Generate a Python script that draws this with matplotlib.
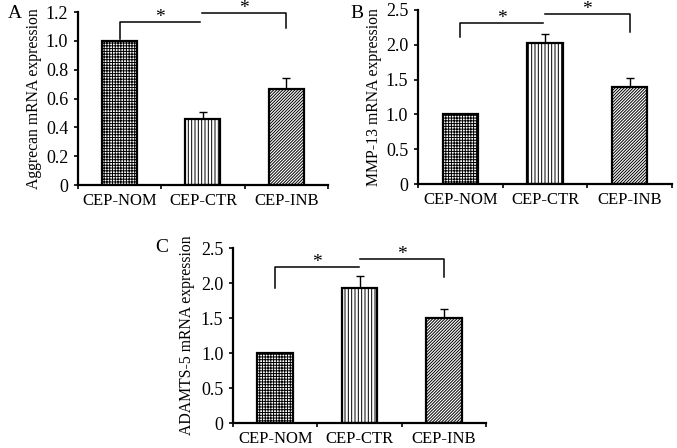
import matplotlib
matplotlib.use("Agg")
import matplotlib.pyplot as plt

plt.rcParams["font.family"] = ["Liberation Serif", "DejaVu Serif"]
plt.rcParams["hatch.linewidth"] = 0.7

# Dados
grupos = ["CEP-NOM", "CEP-CTR", "CEP-INB"]
hachuras = ["++++++", "|||||", "///////////"]

aggrecan = [1.0, 0.455, 0.665]
aggrecan_err = [0.0, 0.055, 0.075]

mmp13 = [1.0, 2.02, 1.40]
mmp13_err = [0.0, 0.13, 0.12]

adamts5 = [1.0, 1.93, 1.50]
adamts5_err = [0.0, 0.17, 0.13]

fig = plt.figure(figsize=(6.77, 4.48), dpi=100)


def painel(pos, valores, erros, ylabel, ymax, yticks, yticklabels,
           br1, br2, letra, letra_xy, ylabel_x):
    ax = fig.add_axes(pos)
    x = range(len(grupos))
    for i in x:
        ax.bar(i, valores[i], width=0.42, color="white", edgecolor="black",
               linewidth=1.6, hatch=hachuras[i], zorder=2)
        if erros[i] > 0:
            ax.errorbar(i, valores[i], yerr=[[0], [erros[i]]], fmt="none",
                        ecolor="black", elinewidth=1.0, capsize=3, capthick=1.0, zorder=1)
    ax.set_xlim(-0.5, 2.5)
    ax.set_ylim(0, ymax)
    ax.set_yticks(yticks)
    ax.set_yticklabels(yticklabels, fontsize=13)
    ax.set_xticks([-0.5, 0.5, 1.5, 2.5])
    ax.set_xticklabels([])
    ax.set_xticks([0, 1, 2], minor=True)
    ax.set_xticklabels(grupos, minor=True, fontsize=12)
    ax.tick_params(axis="x", which="minor", length=0, pad=6)
    ax.tick_params(axis="x", which="major", length=3, width=1.2, direction="out")
    ax.tick_params(axis="y", length=3, width=1.2, direction="out", pad=4)
    for s in ["top", "right"]:
        ax.spines[s].set_visible(False)
    for s in ["left", "bottom"]:
        ax.spines[s].set_linewidth(1.6)
    ax.set_ylabel(ylabel, fontsize=11.3)
    ax.yaxis.set_label_coords(ylabel_x, 0.5)

    # colchetes de significancia
    (y0, yh, xe), (yh2, y1, xs) = br1, br2
    ax.plot([0, 0, xe], [y0, yh, yh], color="black", lw=1.1, clip_on=False)
    ax.annotate("*", ((0 + xe) / 2, yh), xytext=(0, -3), textcoords="offset points",
                ha="center", va="bottom", fontsize=14, annotation_clip=False)
    ax.plot([xs, 2, 2], [yh2, yh2, y1], color="black", lw=1.1, clip_on=False)
    ax.annotate("*", ((xs + 2) / 2, yh2), xytext=(0, -3), textcoords="offset points",
                ha="center", va="bottom", fontsize=14, annotation_clip=False)

    fig.text(letra_xy[0], letra_xy[1], letra, fontsize=14, ha="center", va="center")
    return ax


painel([0.1152, 0.587, 0.3693, 0.386], aggrecan, aggrecan_err,
       "Aggrecan mRNA expression", 1.2,
       [0, 0.2, 0.4, 0.6, 0.8, 1.0, 1.2], ["0", "0.2", "0.4", "0.6", "0.8", "1.0", "1.2"],
       (1.01, 1.13, 0.97), (1.195, 1.09, 0.99), "A", (15 / 677, 1 - 13 / 448), -0.144)

painel([0.6174, 0.589, 0.3752, 0.389], mmp13, mmp13_err,
       "MMP-13 mRNA expression", 2.5,
       [0, 0.5, 1.0, 1.5, 2.0, 2.5], ["0", "0.5", "1.0", "1.5", "2.0", "2.5"],
       (2.11, 2.31, 0.98), (2.44, 2.18, 1.0), "B", (357 / 677, 1 - 13 / 448), -0.142)

painel([0.3442, 0.0558, 0.3737, 0.3906], adamts5, adamts5_err,
       "ADAMTS-5 mRNA expression", 2.5,
       [0, 0.5, 1.0, 1.5, 2.0, 2.5], ["0", "0.5", "1.0", "1.5", "2.0", "2.5"],
       (1.93, 2.23, 0.99), (2.34, 2.09, 1.01), "C", (162 / 677, 1 - 247 / 448), -0.15)

fig.savefig("out.png", dpi=100)
